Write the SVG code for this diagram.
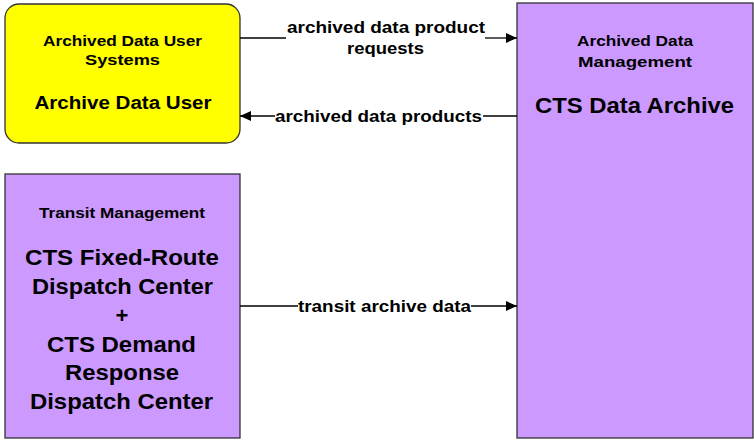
<svg xmlns="http://www.w3.org/2000/svg" width="754" height="440" viewBox="0 0 754 440">
<style>
text{font-family:"Liberation Sans",Arial,sans-serif;font-weight:bold;fill:#000;text-anchor:middle}
.box{stroke:#333;stroke-width:1.3}
.p{fill:#CC99FF}
.y{fill:#FFFF00}
.s{font-size:15.5px}
.m{font-size:18px}
.b{font-size:22px}
.l{font-size:17px}
.c{stroke:#000;stroke-width:1.3;fill:none}
</style>
<defs>
<marker id="ah" markerWidth="12" markerHeight="10" refX="11" refY="5" orient="auto" markerUnits="userSpaceOnUse">
<path d="M0,0 L11,5 L0,10 Z" fill="#000"/>
</marker>
</defs>
<g id="node-user">
<rect class="box y" x="5" y="4" width="235" height="139" rx="14"/>
<text class="s" x="122.5" y="46" textLength="159" lengthAdjust="spacingAndGlyphs">Archived Data User</text>
<text class="s" x="122.5" y="65" textLength="75" lengthAdjust="spacingAndGlyphs">Systems</text>
<text class="m" x="123" y="109" textLength="177" lengthAdjust="spacingAndGlyphs">Archive Data User</text>
</g>
<g id="node-archive">
<rect class="box p" x="517" y="3" width="236" height="435"/>
<text class="s" x="635" y="46" textLength="116" lengthAdjust="spacingAndGlyphs">Archived Data</text>
<text class="s" x="635" y="66.5" textLength="114" lengthAdjust="spacingAndGlyphs">Management</text>
<text class="b" x="634.5" y="113" textLength="199" lengthAdjust="spacingAndGlyphs">CTS Data Archive</text>
</g>
<g id="node-transit">
<rect class="box p" x="5" y="174" width="235" height="264"/>
<text class="s" x="122" y="218" textLength="166" lengthAdjust="spacingAndGlyphs">Transit Management</text>
<text class="b" x="122" y="265" textLength="194" lengthAdjust="spacingAndGlyphs">CTS Fixed-Route</text>
<text class="b" x="122.5" y="294" textLength="181" lengthAdjust="spacingAndGlyphs">Dispatch Center</text>
<text class="b" x="122" y="322.5">+</text>
<text class="b" x="121.5" y="351.5" textLength="149" lengthAdjust="spacingAndGlyphs">CTS Demand</text>
<text class="b" x="122" y="380" textLength="114" lengthAdjust="spacingAndGlyphs">Response</text>
<text class="b" x="121.5" y="408.5" textLength="183" lengthAdjust="spacingAndGlyphs">Dispatch Center</text>
</g>
<g id="connectors">
<path class="c" d="M240,38 H286"/>
<path class="c" d="M485,38 H517" marker-end="url(#ah)"/>
<text class="l" x="386" y="33" textLength="198" lengthAdjust="spacingAndGlyphs">archived data product</text>
<text class="l" x="385.5" y="54" textLength="77" lengthAdjust="spacingAndGlyphs">requests</text>
<path class="c" d="M517,116 H483"/>
<path class="c" d="M275,116 H240" marker-end="url(#ah)"/>
<text class="l" x="378.5" y="122" textLength="207" lengthAdjust="spacingAndGlyphs">archived data products</text>
<path class="c" d="M240,306 H298"/>
<path class="c" d="M471,306 H517" marker-end="url(#ah)"/>
<text class="l" x="384.5" y="312" textLength="173" lengthAdjust="spacingAndGlyphs">transit archive data</text>
</g>
</svg>
